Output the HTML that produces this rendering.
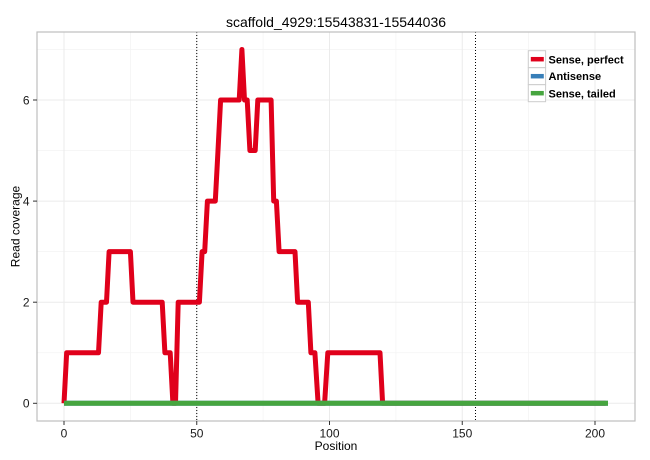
<!DOCTYPE html>
<html>
<head>
<meta charset="utf-8">
<style>
  html, body { margin: 0; padding: 0; background: #ffffff; }
  svg { display: block; }
  text { font-family: "Liberation Sans", "DejaVu Sans", sans-serif; }
</style>
</head>
<body>
<svg width="650" height="460" viewBox="0 0 650 460" xmlns="http://www.w3.org/2000/svg">
  <rect x="0" y="0" width="650" height="460" fill="#ffffff"/>

  <!-- panel background -->
  <rect x="37" y="32" width="598" height="389" fill="#ffffff"/>

  <!-- minor grid -->
  <g stroke="#f4f4f4" stroke-width="0.8" fill="none">
    <line x1="130.4" y1="32" x2="130.4" y2="421"/>
    <line x1="263.1" y1="32" x2="263.1" y2="421"/>
    <line x1="395.9" y1="32" x2="395.9" y2="421"/>
    <line x1="528.6" y1="32" x2="528.6" y2="421"/>
    <line x1="37" y1="352.75" x2="635" y2="352.75"/>
    <line x1="37" y1="251.65" x2="635" y2="251.65"/>
    <line x1="37" y1="150.55" x2="635" y2="150.55"/>
    <line x1="37" y1="49.45" x2="635" y2="49.45"/>
  </g>
  <!-- major grid -->
  <g stroke="#ebebeb" stroke-width="1" fill="none">
    <line x1="64" y1="32" x2="64" y2="421"/>
    <line x1="196.75" y1="32" x2="196.75" y2="421"/>
    <line x1="329.5" y1="32" x2="329.5" y2="421"/>
    <line x1="462.25" y1="32" x2="462.25" y2="421"/>
    <line x1="595" y1="32" x2="595" y2="421"/>
    <line x1="37" y1="403.3" x2="635" y2="403.3"/>
    <line x1="37" y1="302.2" x2="635" y2="302.2"/>
    <line x1="37" y1="201.1" x2="635" y2="201.1"/>
    <line x1="37" y1="100" x2="635" y2="100"/>
  </g>

  <!-- dotted vertical lines -->
  <g stroke="#000000" stroke-width="1" stroke-dasharray="1 2" fill="none">
    <line x1="196.75" y1="32" x2="196.75" y2="421"/>
    <line x1="475.5" y1="32" x2="475.5" y2="421"/>
  </g>

  <!-- Sense, perfect (red) -->
  <polyline fill="none" stroke="#e0001b" stroke-width="5" stroke-linejoin="round" stroke-linecap="butt"
    points="64,403.3 66.66,352.75 98.5,352.75 101.2,302.2 106.5,302.2 109.1,251.65 130.4,251.65 133.0,302.2 162.2,302.2 164.9,352.75 170.2,352.75 172.9,403.3 175.5,403.3 178.2,302.2 199.4,302.2 202.1,251.65 204.7,251.65 207.4,201.1 215.3,201.1 218.0,150.55 220.6,100 239.2,100 241.9,49.45 244.5,100 247.2,100 249.9,150.55 255.2,150.55 257.8,100 271.1,100 273.7,201.1 276.4,201.1 279.1,251.65 295.0,251.65 297.6,302.2 308.3,302.2 310.9,352.75 314.9,352.75 318.1,403.3 324.6,403.3 327.8,352.75 380.0,352.75 382.6,403.3 605.6,403.3"/>

  <!-- Antisense (blue, hidden under green) -->
  <line x1="64" y1="403.3" x2="608" y2="403.3" stroke="#377eb8" stroke-width="5"/>
  <!-- Sense, tailed (green) -->
  <line x1="64" y1="403.3" x2="608" y2="403.3" stroke="#46a53f" stroke-width="5"/>

  <!-- panel border -->
  <rect x="37" y="32" width="598" height="389" fill="none" stroke="#bdbdbd" stroke-width="1.2"/>

  <!-- ticks -->
  <g stroke="#333333" stroke-width="1">
    <line x1="33" y1="403.3" x2="37" y2="403.3"/>
    <line x1="33" y1="302.2" x2="37" y2="302.2"/>
    <line x1="33" y1="201.1" x2="37" y2="201.1"/>
    <line x1="33" y1="100" x2="37" y2="100"/>
    <line x1="64" y1="421" x2="64" y2="425"/>
    <line x1="196.75" y1="421" x2="196.75" y2="425"/>
    <line x1="329.5" y1="421" x2="329.5" y2="425"/>
    <line x1="462.25" y1="421" x2="462.25" y2="425"/>
    <line x1="595" y1="421" x2="595" y2="425"/>
  </g>

  <!-- y tick labels -->
  <g font-size="12" fill="#1a1a1a" text-anchor="end">
    <text x="29.5" y="407.6">0</text>
    <text x="29.5" y="306.5">2</text>
    <text x="29.5" y="205.4">4</text>
    <text x="29.5" y="104.3">6</text>
  </g>
  <!-- x tick labels -->
  <g font-size="12" fill="#1a1a1a" text-anchor="middle">
    <text x="64" y="437.6">0</text>
    <text x="196.75" y="437.6">50</text>
    <text x="329.5" y="437.6">100</text>
    <text x="462.25" y="437.6">150</text>
    <text x="595" y="437.6">200</text>
  </g>

  <!-- axis titles -->
  <text x="336" y="450" font-size="12" fill="#000000" text-anchor="middle">Position</text>
  <text transform="translate(19.5,226.5) rotate(-90)" font-size="12" fill="#000000" text-anchor="middle">Read coverage</text>

  <!-- title -->
  <text x="336" y="27" font-size="14" fill="#000000" text-anchor="middle">scaffold_4929:15543831-15544036</text>

  <!-- legend -->
  <g>
    <rect x="528.3" y="50.7" width="17.3" height="17" fill="#ffffff" stroke="#cccccc" stroke-width="1"/>
    <rect x="528.3" y="67.7" width="17.3" height="17" fill="#ffffff" stroke="#cccccc" stroke-width="1"/>
    <rect x="528.3" y="84.7" width="17.3" height="17" fill="#ffffff" stroke="#cccccc" stroke-width="1"/>
    <line x1="530.8" y1="59.2" x2="543.8" y2="59.2" stroke="#e0001b" stroke-width="4.5"/>
    <line x1="530.8" y1="76.2" x2="543.8" y2="76.2" stroke="#377eb8" stroke-width="4.5"/>
    <line x1="530.8" y1="93.2" x2="543.8" y2="93.2" stroke="#46a53f" stroke-width="4.5"/>
    <g font-size="11" font-weight="bold" fill="#000000">
      <text x="548.5" y="63.3">Sense, perfect</text>
      <text x="548.5" y="80.2">Antisense</text>
      <text x="548.5" y="97.3">Sense, tailed</text>
    </g>
  </g>
</svg>
</body>
</html>
